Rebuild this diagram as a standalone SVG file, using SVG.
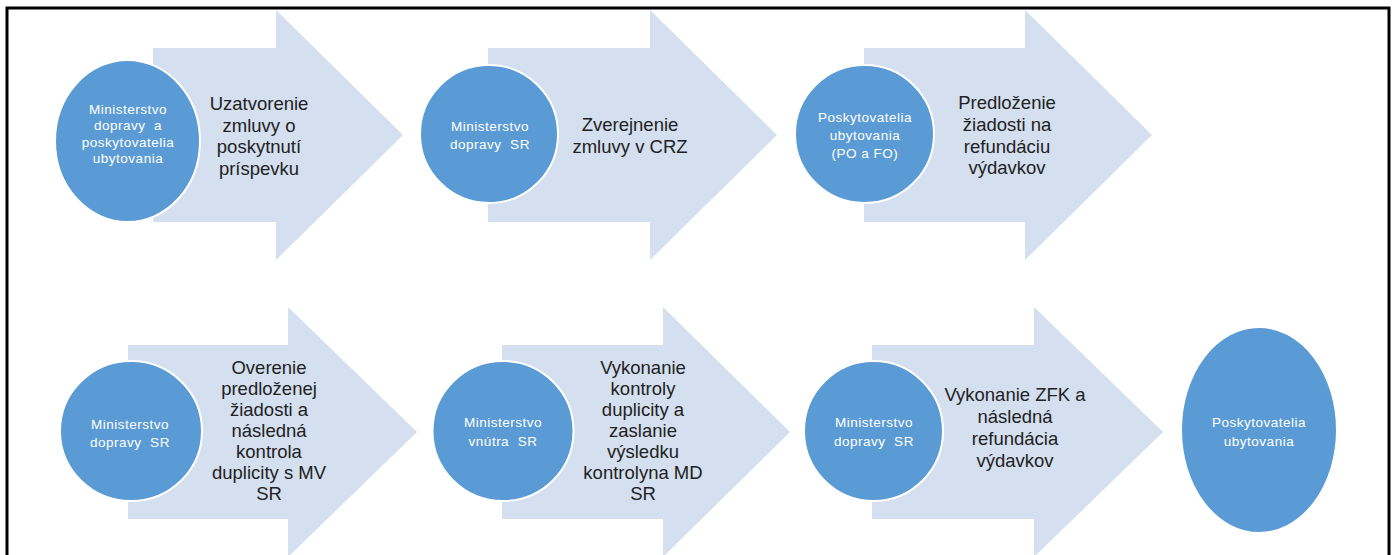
<svg xmlns="http://www.w3.org/2000/svg" width="1395" height="555" viewBox="0 0 1395 555">
<style>
.arrow{fill:#D4DFEF;stroke:none}
.node{fill:#5B9BD5;stroke:#FFFFFF;stroke-width:2}
.lbl{font-family:"Liberation Sans",Arial,sans-serif;font-size:18.5px;fill:#222222;text-anchor:middle}
.ntx{font-family:"Liberation Sans",Arial,sans-serif;font-size:13.5px;fill:#FFFFFF;text-anchor:middle;letter-spacing:0.5px;white-space:pre}
</style>
<rect x="0" y="0" width="1395" height="555" fill="#FFFFFF"/>
<rect x="7" y="8" width="1382" height="570" fill="none" stroke="#000000" stroke-width="3"/>
<g id="connectors">
  <g id="step1">
    <polygon class="arrow" points="153,48 276,48 276,10 403,135 276,260 276,222 153,222"/>
    <text class="lbl" x="259" y="110">Uzatvorenie</text>
    <text class="lbl" x="259" y="131.5">zmluvy o</text>
    <text class="lbl" x="259" y="153">poskytnutí</text>
    <text class="lbl" x="259" y="174.5">príspevku</text>
  </g>
  <g id="step2">
    <polygon class="arrow" points="488,48 650,48 650,10 777,135 650,260 650,222 488,222"/>
    <text class="lbl" x="630" y="131">Zverejnenie</text>
    <text class="lbl" x="630" y="153">zmluvy v CRZ</text>
  </g>
  <g id="step3">
    <polygon class="arrow" points="864,48 1025,48 1025,10 1152,135 1025,260 1025,222 864,222"/>
    <text class="lbl" x="1007" y="109">Predloženie</text>
    <text class="lbl" x="1007" y="131">žiadosti na</text>
    <text class="lbl" x="1007" y="152.5">refundáciu</text>
    <text class="lbl" x="1007" y="174">výdavkov</text>
  </g>
  <g id="step4">
    <polygon class="arrow" points="128,345 288,345 288,307 417,432 288,557 288,519 128,519"/>
    <text class="lbl" x="269" y="374">Overenie</text>
    <text class="lbl" x="269" y="395">predloženej</text>
    <text class="lbl" x="269" y="416">žiadosti a</text>
    <text class="lbl" x="269" y="437">následná</text>
    <text class="lbl" x="269" y="458">kontrola</text>
    <text class="lbl" x="269" y="479">duplicity s MV</text>
    <text class="lbl" x="269" y="500">SR</text>
  </g>
  <g id="step5">
    <polygon class="arrow" points="502,345 663,345 663,307 790,432 663,557 663,519 502,519"/>
    <text class="lbl" x="643" y="374">Vykonanie</text>
    <text class="lbl" x="643" y="395">kontroly</text>
    <text class="lbl" x="643" y="416">duplicity a</text>
    <text class="lbl" x="643" y="437">zaslanie</text>
    <text class="lbl" x="643" y="458">výsledku</text>
    <text class="lbl" x="643" y="479">kontrolyna MD</text>
    <text class="lbl" x="643" y="500">SR</text>
  </g>
  <g id="step6">
    <polygon class="arrow" points="872,345 1034,345 1034,307 1163,432 1034,557 1034,519 872,519"/>
    <text class="lbl" x="1015" y="401">Vykonanie ZFK a</text>
    <text class="lbl" x="1015" y="423">následná</text>
    <text class="lbl" x="1015" y="445">refundácia</text>
    <text class="lbl" x="1015" y="467">výdavkov</text>
  </g>
</g>
<g id="node1">
  <ellipse class="node" cx="127.5" cy="141" rx="72.5" ry="81"/>
  <text class="ntx" x="128" y="113.5">Ministerstvo</text>
  <text class="ntx" x="128" y="130">dopravy  a</text>
  <text class="ntx" x="128" y="146.5">poskytovatelia</text>
  <text class="ntx" x="128" y="163">ubytovania</text>
</g>
<g id="node2">
  <ellipse class="node" cx="489" cy="134" rx="69" ry="69"/>
  <text class="ntx" x="490" y="131">Ministerstvo</text>
  <text class="ntx" x="490" y="149">dopravy  SR</text>
</g>
<g id="node3">
  <ellipse class="node" cx="864.5" cy="134" rx="69.5" ry="69"/>
  <text class="ntx" x="865" y="122">Poskytovatelia</text>
  <text class="ntx" x="865" y="140">ubytovania</text>
  <text class="ntx" x="865" y="158">(PO a FO)</text>
</g>
<g id="node4">
  <ellipse class="node" cx="131" cy="431" rx="71" ry="70"/>
  <text class="ntx" x="130" y="429">Ministerstvo</text>
  <text class="ntx" x="130" y="447">dopravy  SR</text>
</g>
<g id="node5">
  <ellipse class="node" cx="503" cy="431" rx="70.5" ry="70"/>
  <text class="ntx" x="503" y="427">Ministerstvo</text>
  <text class="ntx" x="503" y="446">vnútra  SR</text>
</g>
<g id="node6">
  <ellipse class="node" cx="873.5" cy="431" rx="69.5" ry="70"/>
  <text class="ntx" x="874" y="427">Ministerstvo</text>
  <text class="ntx" x="874" y="446">dopravy  SR</text>
</g>
<g id="node7">
  <ellipse class="node" cx="1259" cy="430" rx="78" ry="103"/>
  <text class="ntx" x="1259" y="427">Poskytovatelia</text>
  <text class="ntx" x="1259" y="446">ubytovania</text>
</g>
</svg>
